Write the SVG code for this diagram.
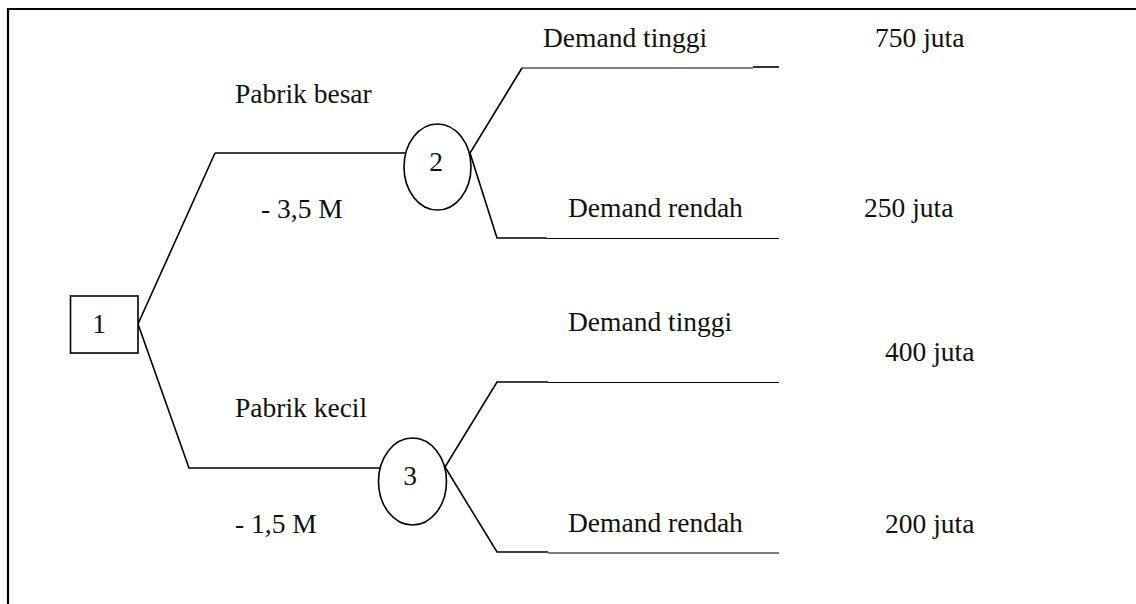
<svg xmlns="http://www.w3.org/2000/svg" width="1136" height="604" viewBox="0 0 1136 604">
<style>
text{font-family:"Liberation Serif","Times New Roman",serif;font-size:27.5px;fill:#111}
.ln{fill:none;stroke:#000;stroke-width:1.6}
.th{fill:none;stroke:#000;stroke-width:1.1}
.nd{fill:#fff;stroke:#000;stroke-width:1.6}
</style>
<rect width="1136" height="604" fill="#fff"/>
<g id="frame">
<polyline points="8,604 8,9 1136,9" fill="none" stroke="#000" stroke-width="2.2"/>
</g>
<g id="connectors">
<polyline class="ln" points="215,153 138,324 189,468 382,468"/>
<line class="ln" x1="215" y1="153" x2="406" y2="153"/>
<polyline class="ln" points="522,68 470,153 497,238 547,238"/>
<line class="th" x1="522" y1="68" x2="753" y2="68"/>
<line class="ln" x1="753" y1="67" x2="779" y2="67"/>
<line class="th" x1="547" y1="238.5" x2="779" y2="238.5"/>
<polyline class="ln" points="548,382 497,382 445,467 497,552 548,552"/>
<line class="th" x1="548" y1="382.5" x2="779" y2="382.5"/>
<line class="th" x1="548" y1="553" x2="779" y2="553"/>
</g>
<g id="node1">
<rect class="nd" x="70.5" y="296" width="67.5" height="57"/>
<text x="99" y="333" text-anchor="middle">1</text>
</g>
<g id="node2">
<ellipse class="nd" cx="437.5" cy="167" rx="33.5" ry="43"/>
<text x="436" y="171" text-anchor="middle">2</text>
</g>
<g id="node3">
<ellipse class="nd" cx="412.5" cy="481.5" rx="34" ry="43.5"/>
<text x="410" y="485" text-anchor="middle">3</text>
</g>
<g id="labels">
<text x="235" y="103">Pabrik besar</text>
<text x="261" y="218">- 3,5 M</text>
<text x="235" y="417">Pabrik kecil</text>
<text x="235" y="533">- 1,5 M</text>
<text x="543" y="47">Demand tinggi</text>
<text x="568" y="217">Demand rendah</text>
<text x="568" y="331">Demand tinggi</text>
<text x="568" y="532">Demand rendah</text>
<text x="875" y="47">750 juta</text>
<text x="864" y="217">250 juta</text>
<text x="885" y="361">400 juta</text>
<text x="885" y="533">200 juta</text>
</g>
</svg>
